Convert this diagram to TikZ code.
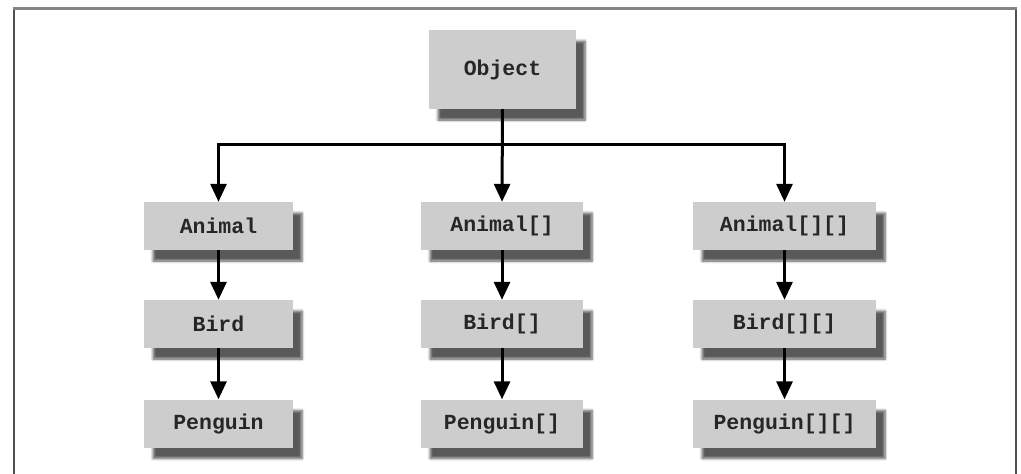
\documentclass[tikz,border=0pt]{standalone}
\usepackage{fontspec}
\setmonofont{Liberation Mono}
\usetikzlibrary{arrows.meta,shadows.blur}
\definecolor{boxfill}{HTML}{CDCDCD}
\definecolor{frametop}{HTML}{858585}
\definecolor{frameside}{HTML}{505050}
\tikzset{
  cls/.style={rectangle, fill=boxfill, inner sep=0pt, minimum height=48pt,
    font=\ttfamily\bfseries\fontsize{21.5}{22}\selectfont, text=black!85,
    blur shadow={shadow xshift=9pt, shadow yshift=-11pt, shadow blur steps=6,
      shadow blur radius=2.5pt, shadow opacity=65}},
  arr/.style={line width=3pt, -{Triangle[width=16pt,length=18pt]}, line join=miter},
}
\begin{document}
\begin{tikzpicture}[x=1pt,y=-1pt]
\useasboundingbox (0,0) rectangle (1021,474);
% frame
\draw[frameside, line width=2.5pt] (14,474) -- (14,8);
\draw[frameside, line width=2.5pt] (1016,474) -- (1016,8);
\draw[frametop, line width=3pt] (12.75,8) -- (1017.25,8);
% nodes
\node[cls, minimum width=147pt, minimum height=79pt] (obj) at (502.5,69.5) {Object};
\node[cls, minimum width=149pt] (a1) at (218.5,226) {Animal};
\node[cls, minimum width=149pt] (b1) at (218.5,324) {Bird};
\node[cls, minimum width=149pt] (p1) at (218.5,423.5) {Penguin};
\node[cls, minimum width=162pt] (a2) at (502,226) {Animal[]};
\node[cls, minimum width=162pt] (b2) at (502,324) {Bird[]};
\node[cls, minimum width=162pt] (p2) at (502,423.5) {Penguin[]};
\node[cls, minimum width=183pt] (a3) at (784.5,226) {Animal[][]};
\node[cls, minimum width=183pt] (b3) at (784.5,324) {Bird[][]};
\node[cls, minimum width=183pt] (p3) at (784.5,423.5) {Penguin[][]};
% connectors
\coordinate (bus) at (502.5,144);
\draw[arr] (obj.south) -- (a2.north);
\draw[arr] (bus) -| (a1.north);
\draw[arr] (bus) -| (a3.north);
\draw[arr] (a1) -- (b1);
\draw[arr] (b1) -- (p1);
\draw[arr] (a2) -- (b2);
\draw[arr] (b2) -- (p2);
\draw[arr] (a3) -- (b3);
\draw[arr] (b3) -- (p3);
\end{tikzpicture}
\end{document}
